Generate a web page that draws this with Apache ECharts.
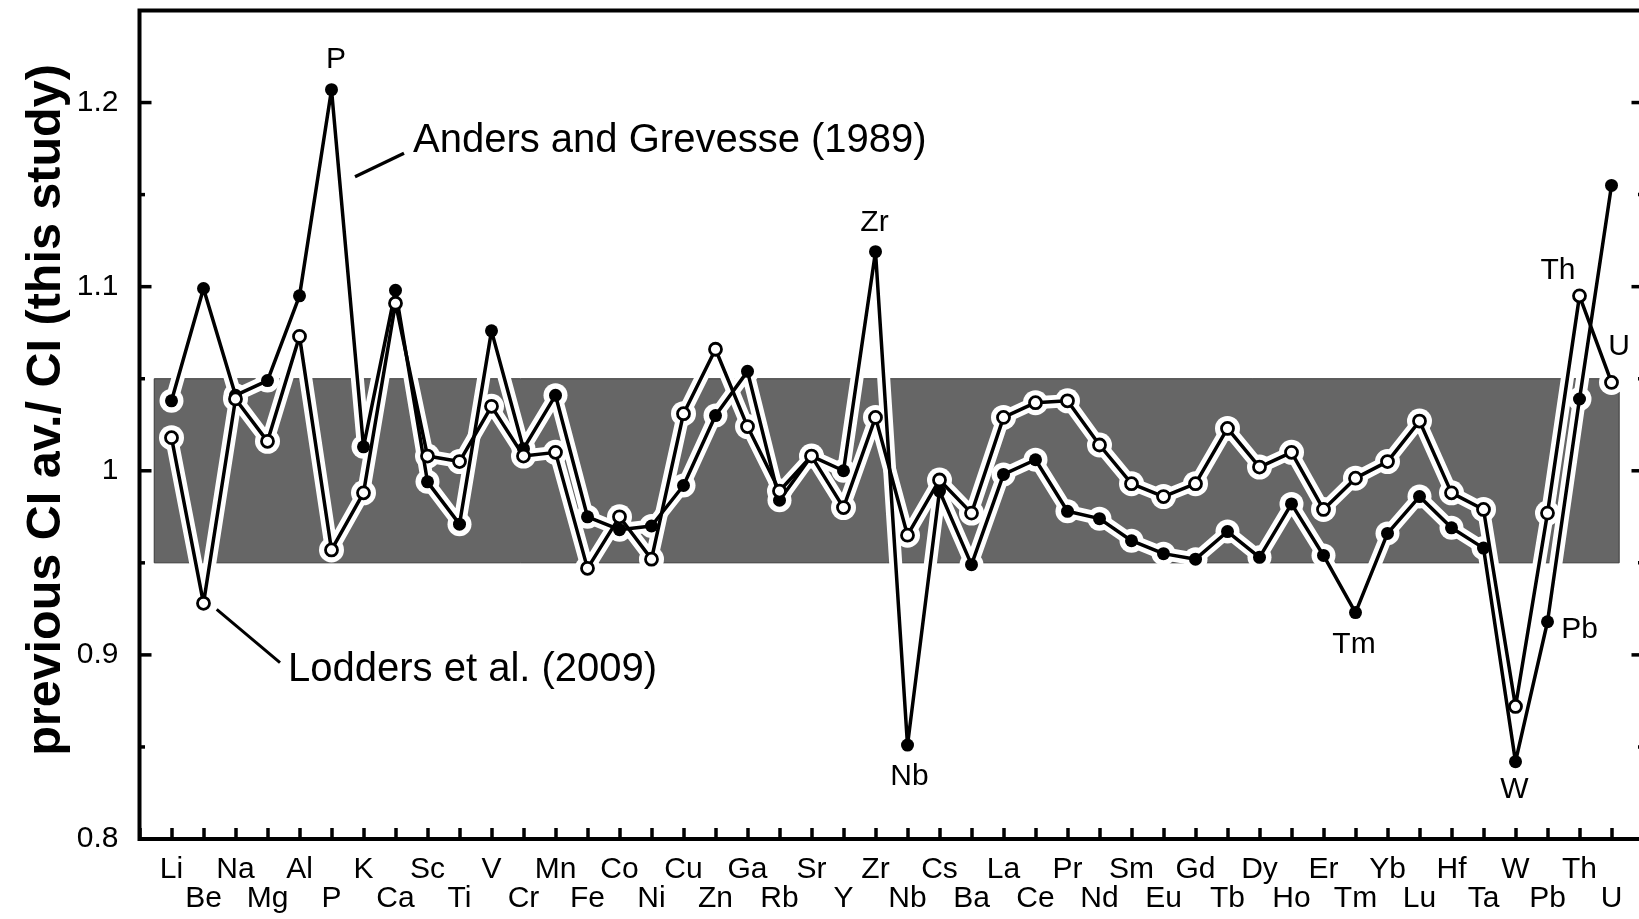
<!DOCTYPE html>
<html>
<head>
<meta charset="utf-8">
<script src="https://cdn.jsdelivr.net/npm/echarts@6/dist/echarts.min.js"></script>
<style>
  html, body { margin: 0; padding: 0; background: #fff; }
  #chart { width: 1639px; height: 919px; }
</style>
</head>
<body>
<div id="chart"></div>
<script>
  // element order along the x axis
  const elements = ['Li', 'Be', 'Na', 'Mg', 'Al', 'P', 'K', 'Ca', 'Sc', 'Ti', 'V', 'Cr', 'Mn', 'Fe', 'Co', 'Ni',
    'Cu', 'Zn', 'Ga', 'Rb', 'Sr', 'Y', 'Zr', 'Nb', 'Cs', 'Ba', 'La', 'Ce', 'Pr', 'Nd', 'Sm', 'Eu', 'Gd', 'Tb',
    'Dy', 'Ho', 'Er', 'Tm', 'Yb', 'Lu', 'Hf', 'Ta', 'W', 'Pb', 'Th', 'U']

  // Anders and Grevesse (1989) / this study  (filled dots)
  const anders1989 = [1.038, 1.099, 1.041, 1.049, 1.095, 1.207, 1.013, 1.098, 0.994, 0.971, 1.076, 1.012,
    1.041, 0.975, 0.968, 0.970, 0.992, 1.030, 1.054, 0.984, 1.008, 1.000, 1.119, 0.851, 0.989, 0.949,
    0.998, 1.006, 0.978, 0.974, 0.962, 0.955, 0.952, 0.967, 0.953, 0.982, 0.954, 0.923, 0.966, 0.986,
    0.969, 0.958, 0.842, 0.918, 1.039, 1.155]

  // Lodders et al. (2009) / this study  (open circles)
  const lodders2009 = [1.018, 0.928, 1.039, 1.016, 1.073, 0.957, 0.988, 1.091, 1.008, 1.005, 1.035, 1.008,
    1.010, 0.947, 0.975, 0.952, 1.031, 1.066, 1.024, 0.989, 1.008, 0.980, 1.029, 0.965, 0.995, 0.977,
    1.029, 1.037, 1.038, 1.014, 0.993, 0.986, 0.993, 1.023, 1.002, 1.010, 0.979, 0.996, 1.005, 1.027,
    0.988, 0.979, 0.872, 0.977, 1.095, 1.048]

  // +/- 5 % band
  const bandLow = 0.95
  const bandHigh = 1.05

  // y ticks: labelled ones and the unlabelled halves in between
  const yTickLabels = ['0.8', '0.9', '1', '1.1', '1.2']
  const yTicks = [0.85, 0.9, 0.95, 1, 1.05, 1.1, 1.15, 1.2]

  const font = "'Liberation Sans', Arial, Helvetica, sans-serif"

  // point labels: element -> offset from its marker
  const andersNotes = { P: [4.5, -29.5], Zr: [-1, -28.5], Nb: [2, 31.5], Tm: [-1.5, 32], W: [-1, 28], Pb: [32, 8] }
  const loddersNotes = { Th: [-21.5, -25], U: [7.5, -36] }

  function points(values, notes) {
    return values.map((v, i) => {
      const item = { value: [i, v] }
      const off = notes[elements[i]]
      if (off) {
        item.label = {
          show: true,
          position: 'inside',
          offset: off,
          formatter: elements[i],
          fontSize: 30,
          fontFamily: font,
          color: '#000'
        }
      }
      return item
    })
  }

  const haloLine = { color: '#fff', width: 13, cap: 'round', join: 'round' }

  const myChart = echarts.init(document.getElementById('chart'))

  const option = {
    animation: false,
    backgroundColor: '#fff',
    grid: {
      left: 139.5,
      top: 10.5,
      width: 1504,
      height: 828.5,
      containLabel: false,
      outerBoundsMode: 'none',
      show: true,
      borderColor: '#000',
      borderWidth: 4,
      backgroundColor: 'transparent'
    },
    xAxis: {
      type: 'value',
      min: -1,
      max: 46,
      interval: 1,
      axisLine: { show: false, onZero: false },
      splitLine: { show: false },
      axisTick: { show: true, inside: true, length: 11, lineStyle: { color: '#000', width: 3.5 } },
      axisLabel: {
        margin: 16,
        fontSize: 30,
        lineHeight: 29,
        fontFamily: font,
        color: '#000',
        showMinLabel: true,
        showMaxLabel: true,
        formatter: (v) => {
          const name = elements[v]
          if (!name) return ''
          return v % 2 ? '\n' + name : name
        }
      }
    },
    yAxis: {
      type: 'value',
      min: 0.8,
      max: 1.25,
      interval: 0.1,
      position: 'left',
      axisLine: { show: false, onZero: false },
      splitLine: { show: false },
      axisTick: { show: false },
      axisLabel: {
        margin: 21,
        fontSize: 30,
        fontFamily: font,
        color: '#000',
        formatter: (v) => {
          const s = String(+v.toFixed(2))
          return yTickLabels.includes(s) ? s : ''
        }
      }
    },
    series: [
      {
        // grey band
        type: 'line',
        data: [],
        z: 1,
        silent: true,
        markArea: {
          silent: true,
          itemStyle: { color: '#666666', borderColor: '#3a3a3a', borderWidth: 1 },
          data: [[{ coord: [-0.54, bandLow] }, { coord: [45.24, bandHigh] }]]
        }
      },
      {
        // inward ticks on the left and right frame
        type: 'custom',
        silent: true,
        z: 6,
        data: yTicks.map((v) => [v, yTickLabels.includes(String(v)) ? 1 : 0]),
        renderItem: (params, api) => {
          const v = api.value(0)
          const len = api.value(1) ? 12 : 5.5
          const l = api.coord([-1, v])
          const r = api.coord([46, v])
          const st = { stroke: '#000', lineWidth: 3.5 }
          return {
            type: 'group',
            children: [
              { type: 'line', shape: { x1: l[0], y1: l[1], x2: l[0] + len, y2: l[1] }, style: st },
              { type: 'line', shape: { x1: r[0], y1: r[1], x2: r[0] - len, y2: r[1] }, style: st }
            ]
          }
        }
      },
      {
        type: 'line',
        data: points(anders1989, {}),
        z: 2,
        silent: true,
        symbol: 'circle',
        symbolSize: 24,
        itemStyle: { color: '#fff' },
        lineStyle: haloLine
      },
      {
        type: 'line',
        data: points(lodders2009, {}),
        z: 2,
        silent: true,
        symbol: 'circle',
        symbolSize: 25,
        itemStyle: { color: '#fff' },
        lineStyle: haloLine
      },
      {
        name: 'Anders and Grevesse (1989)',
        type: 'line',
        data: points(anders1989, andersNotes),
        z: 3,
        symbol: 'circle',
        symbolSize: 13,
        itemStyle: { color: '#000' },
        lineStyle: { color: '#000', width: 3.5 }
      },
      {
        name: 'Lodders et al. (2009)',
        type: 'line',
        data: points(lodders2009, loddersNotes),
        z: 4,
        symbol: 'circle',
        symbolSize: 12,
        itemStyle: { color: '#fff', borderColor: '#000', borderWidth: 2.8 },
        lineStyle: { color: '#000', width: 3.5 }
      }
    ],
    graphic: [
      {
        type: 'text',
        x: 47,
        y: 410,
        rotation: Math.PI / 2,
        style: {
          text: 'previous CI av./ CI (this study)',
          fontSize: 48.5,
          fontWeight: 'bold',
          fontFamily: font,
          fill: '#000',
          align: 'center',
          verticalAlign: 'middle'
        }
      },
      {
        type: 'text',
        x: 413,
        y: 141,
        style: {
          text: 'Anders and Grevesse (1989)',
          fontSize: 40,
          fontFamily: font,
          fill: '#000',
          align: 'left',
          verticalAlign: 'middle'
        }
      },
      {
        type: 'line',
        shape: { x1: 355, y1: 176.7, x2: 404, y2: 153.3 },
        style: { stroke: '#000', lineWidth: 3.3 }
      },
      {
        type: 'text',
        x: 288,
        y: 670,
        style: {
          text: 'Lodders et al. (2009)',
          fontSize: 40,
          fontFamily: font,
          fill: '#000',
          align: 'left',
          verticalAlign: 'middle'
        }
      },
      {
        type: 'line',
        shape: { x1: 216.7, y1: 609.3, x2: 280, y2: 662.7 },
        style: { stroke: '#000', lineWidth: 3 }
      }
    ]
  }

  myChart.setOption(option)
</script>
</body>
</html>
